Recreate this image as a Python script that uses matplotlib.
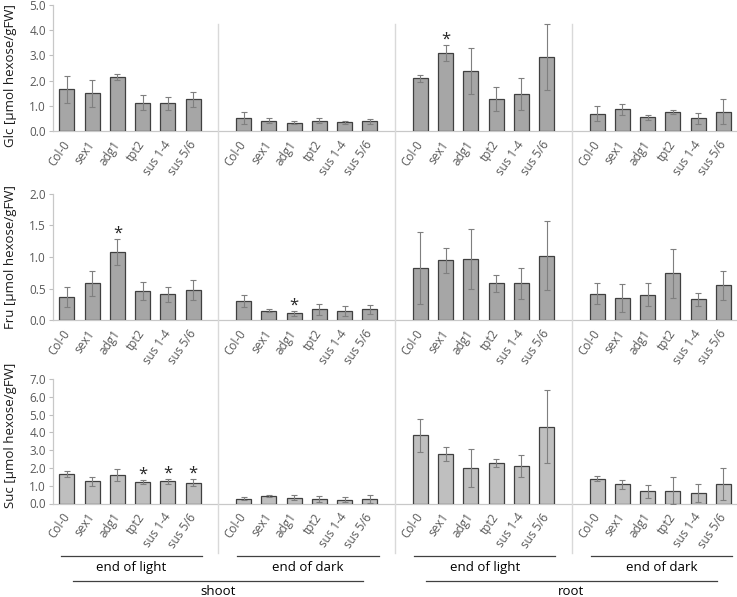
import numpy as np
import matplotlib
matplotlib.use('Agg')
import matplotlib.pyplot as plt
from matplotlib.lines import Line2D
from matplotlib.transforms import blended_transform_factory

genotypes = ['Col-0', 'sex1', 'adg1', 'tpt2', 'sus 1-4', 'sus 5/6']
conditions = ['end of light', 'end of dark', 'end of light', 'end of dark']
tissues = ['shoot', 'root']

# order: shoot/light, shoot/dark, root/light, root/dark (6 genotypes each)
glc_mean = [1.66, 1.50, 2.16, 1.13, 1.10, 1.26,
            0.50, 0.41, 0.33, 0.40, 0.34, 0.38,
            2.09, 3.09, 2.38, 1.27, 1.46, 2.93,
            0.69, 0.86, 0.54, 0.75, 0.50, 0.77]
glc_err = [0.53, 0.53, 0.12, 0.30, 0.26, 0.30,
           0.24, 0.10, 0.07, 0.10, 0.07, 0.10,
           0.15, 0.33, 0.90, 0.46, 0.63, 1.32,
           0.29, 0.21, 0.10, 0.07, 0.23, 0.50]
glc_stars = [13]

fru_mean = [0.37, 0.58, 1.08, 0.46, 0.41, 0.47,
            0.30, 0.15, 0.11, 0.17, 0.14, 0.17,
            0.82, 0.95, 0.97, 0.58, 0.58, 1.02,
            0.42, 0.35, 0.40, 0.74, 0.33, 0.55]
fru_err = [0.16, 0.20, 0.20, 0.14, 0.12, 0.16,
           0.09, 0.02, 0.04, 0.09, 0.08, 0.07,
           0.57, 0.20, 0.48, 0.14, 0.25, 0.55,
           0.16, 0.22, 0.18, 0.39, 0.10, 0.23]
fru_stars = [2, 8]

suc_mean = [1.65, 1.24, 1.59, 1.20, 1.25, 1.18,
            0.28, 0.41, 0.32, 0.26, 0.22, 0.25,
            3.84, 2.77, 1.99, 2.30, 2.12, 4.31,
            1.40, 1.07, 0.69, 0.73, 0.60, 1.12]
suc_err = [0.17, 0.24, 0.33, 0.13, 0.13, 0.18,
           0.07, 0.05, 0.14, 0.17, 0.14, 0.20,
           0.92, 0.39, 1.07, 0.22, 0.62, 2.06,
           0.13, 0.24, 0.37, 0.77, 0.52, 0.90]
suc_stars = [3, 4, 5]

plt.rcParams['font.family'] = ['Open Sans', 'DejaVu Sans']

W, H = 737, 597
fig = plt.figure(figsize=(W / 100, H / 100), dpi=100)

n = len(genotypes)
x = np.concatenate([np.arange(n) + g * (n + 1) for g in range(len(conditions))])

# (ylabel, means, errors, stars, ymax, step, face colour, top px, bottom px, label y)
panels = [
    ('Glc [µmol hexose/gFW]', glc_mean, glc_err, glc_stars, 5.0, 1.0, '#A6A6A6', 5, 131, 0.44),
    ('Fru [µmol hexose/gFW]', fru_mean, fru_err, fru_stars, 2.0, 0.5, '#A6A6A6', 194, 320, 0.5),
    ('Suc [µmol hexose/gFW]', suc_mean, suc_err, suc_stars, 7.0, 1.0, '#BFBFBF', 379, 503.5, 0.55),
]

left_px, right_px = 53, 736
axes = []
for label, mean, err, stars, ymax, step, face, top, bot, ly in panels:
    ax = fig.add_axes([left_px / W, 1 - bot / H, (right_px - left_px) / W, (bot - top) / H])
    ax.bar(x, mean, 0.6, yerr=err, color=face, edgecolor='#404040', linewidth=0.9,
           error_kw=dict(ecolor='#7F7F7F', elinewidth=0.8, capsize=2, capthick=0.8), zorder=3)
    for i in stars:
        ax.annotate('*', (x[i], mean[i] + err[i]), xytext=(0, -2), textcoords='offset points',
                    ha='center', va='bottom', fontsize=12, color='#262626')
    ax.set_xlim(-0.55, len(x) + len(conditions) - 1.5)
    ax.set_ylim(0, ymax)
    ticks = np.arange(0, ymax + step / 2, step)
    ax.set_yticks(ticks)
    ax.set_yticklabels(['%.1f' % t for t in ticks], fontsize=8.5, color='#595959')
    ax.set_xticks(x)
    ax.set_xticklabels(genotypes * len(conditions), rotation=55, ha='right', va='center',
                       rotation_mode='anchor', fontsize=8.5, color='#595959')
    ax.tick_params(axis='x', length=0, pad=8)
    ax.tick_params(axis='y', length=3, color='#BFBFBF', width=0.8, pad=2)
    for s in ['top', 'right']:
        ax.spines[s].set_visible(False)
    for s in ['left', 'bottom']:
        ax.spines[s].set_color('#C8C8C8')
        ax.spines[s].set_linewidth(0.9)
    ax.set_ylabel(label, fontsize=9.5, color='#1a1a1a')
    ax.yaxis.set_label_coords(-0.053, ly)
    axes.append(ax)

tr = blended_transform_factory(axes[0].transData, fig.transFigure)

# vertical separators between the condition groups
for g in range(1, len(conditions)):
    b = g * (n + 1) - 1
    fig.add_artist(Line2D([b, b], [0.074, 0.96], transform=tr, color='#D9D9D9', lw=1.0))

# condition brackets
for g, cond in enumerate(conditions):
    s = g * (n + 1) - 0.25
    e = g * (n + 1) + n - 1 + 0.35
    fig.add_artist(Line2D([s, e], [0.0687, 0.0687], transform=tr, color='#404040', lw=0.9))
    fig.text((s + e) / 2, 0.049, cond, transform=tr, ha='center', va='center', fontsize=9.5)

# tissue brackets
for t, tis in enumerate(tissues):
    s = t * 2 * (n + 1) + 0.24
    e = t * 2 * (n + 1) + 2 * n - 0.27
    fig.add_artist(Line2D([s, e], [0.0268, 0.0268], transform=tr, color='#404040', lw=0.9))
    fig.text((s + e) / 2, 0.01, tis, transform=tr, ha='center', va='center', fontsize=9.5)

fig.savefig('out.png', dpi=100)
